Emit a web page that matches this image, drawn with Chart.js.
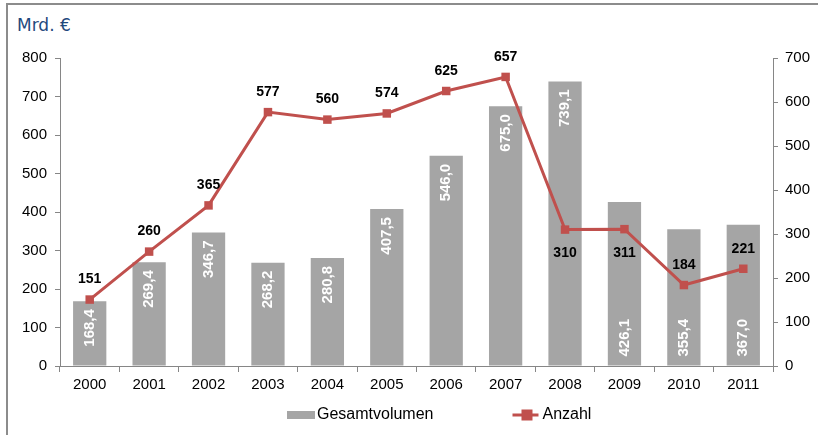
<!DOCTYPE html>
<html>
<head>
<meta charset="utf-8">
<script src="https://cdn.jsdelivr.net/npm/chart.js@4"></script>
<style>
  html, body { margin: 0; padding: 0; background: #fff; }
  #frame { position: absolute; left: 6px; top: 3px; width: 830px; height: 450px;
           border-top: 2px solid #8c8c8c; border-left: 2px solid #8c8c8c; }
  #unit { position: absolute; left: 17px; top: 15px; font: 17px "DejaVu Sans", sans-serif; color: #1f497d; }
  #wrap { position: absolute; left: 0; top: 0; width: 818px; height: 435px; }
</style>
</head>
<body>
<div id="frame"></div>
<div id="unit">Mrd. €</div>
<div id="wrap"><canvas id="c" width="818" height="435"></canvas></div>
<script>
// values
const years = ['2000', '2001', '2002', '2003', '2004', '2005', '2006', '2007', '2008', '2009', '2010', '2011'];
const gesamtvolumen = [168.4, 269.4, 346.7, 268.2, 280.8, 407.5, 546.0, 675.0, 739.1, 426.1, 355.4, 367.0];
const anzahl = [151, 260, 365, 577, 560, 574, 625, 657, 310, 311, 184, 221];
const leftMax = 800;
const rightMax = 700;

// where the labels sit (style only)
const barLabelAt = ['end', 'end', 'end', 'end', 'end', 'end', 'end', 'end', 'end', 'start', 'start', 'start'];
const lineLabelAt = ['above', 'above', 'above', 'above', 'above', 'above', 'above', 'above', 'below', 'below', 'above', 'above'];

const GRAY = '#a5a5a5';
const RED = '#c0504d';
const AXIS = '#868686';
const FONT = '"Liberation Sans", Arial, sans-serif';

const valueLabels = {
  id: 'valueLabels',
  afterDatasetsDraw(chart) {
    const ctx = chart.ctx;
    chart.getDatasetMeta(0).data.forEach((bar, i) => {
      const txt = gesamtvolumen[i].toFixed(1).replace('.', ',');
      const atEnd = barLabelAt[i] === 'end';
      ctx.save();
      ctx.translate(bar.x, atEnd ? bar.y + 8 : bar.base - 9);
      ctx.rotate(-Math.PI / 2);
      ctx.textAlign = atEnd ? 'right' : 'left';
      ctx.textBaseline = 'middle';
      ctx.fillStyle = '#fff';
      ctx.font = 'bold 15px ' + FONT;
      ctx.fillText(txt, 0, 0);
      ctx.restore();
    });
    chart.getDatasetMeta(1).data.forEach((pt, i) => {
      ctx.save();
      ctx.textAlign = 'center';
      ctx.textBaseline = 'middle';
      ctx.fillStyle = '#000';
      ctx.font = 'bold 14px ' + FONT;
      ctx.fillText(String(anzahl[i]), pt.x, lineLabelAt[i] === 'above' ? pt.y - 20 : pt.y + 24);
      ctx.restore();
    });
  }
};

// Excel-style legend under the axis
const bottomLegend = {
  id: 'bottomLegend',
  afterDraw(chart) {
    const ctx = chart.ctx;
    const y = chart.scales.x.bottom + 17;
    let x = 287;
    ctx.save();
    ctx.font = '16px ' + FONT;
    ctx.textBaseline = 'middle';

    const names = chart.data.datasets.map(d => d.label);
    ctx.fillStyle = GRAY;
    ctx.fillRect(x, y - 4, 28, 8);
    ctx.fillStyle = '#000';
    ctx.fillText(names[0], x + 30, y);
    x += 30 + ctx.measureText(names[0]).width + 79;

    ctx.strokeStyle = RED;
    ctx.lineWidth = 3;
    ctx.beginPath(); ctx.moveTo(x, y); ctx.lineTo(x + 26, y); ctx.stroke();
    ctx.fillStyle = RED;
    ctx.fillRect(x + 9, y - 5.5, 11, 11);
    ctx.fillStyle = '#000';
    ctx.fillText(names[1], x + 30, y);
    ctx.restore();
  }
};

new Chart(document.getElementById('c'), {
  data: {
    labels: years,
    datasets: [
      {
        type: 'bar',
        label: 'Gesamtvolumen',
        data: gesamtvolumen,
        backgroundColor: GRAY,
        yAxisID: 'y',
        categoryPercentage: 1,
        barPercentage: 0.56,
        order: 2
      },
      {
        type: 'line',
        label: 'Anzahl',
        data: anzahl,
        borderColor: RED,
        backgroundColor: RED,
        borderWidth: 3,
        pointStyle: 'rect',
        pointRadius: 6,
        pointBorderWidth: 0,
        tension: 0,
        yAxisID: 'y1',
        order: 1
      }
    ]
  },
  options: {
    responsive: false,
    animation: false,
    layout: { padding: { left: 18, right: 3, top: 58, bottom: 37 } },
    plugins: {
      tooltip: { enabled: false },
      legend: { display: false }
    },
    scales: {
      x: {
        grid: { display: true, drawOnChartArea: false, offset: true, tickLength: 6, color: AXIS },
        border: { color: AXIS },
        ticks: { color: '#000', font: { family: FONT, size: 15 }, padding: 4 }
      },
      y: {
        position: 'left',
        min: 0, max: leftMax,
        afterFit: s => { s.width = 42; },
        grid: { drawOnChartArea: false, tickLength: 5, color: AXIS },
        border: { color: AXIS },
        ticks: { stepSize: 100, color: '#000', font: { family: FONT, size: 15 }, padding: 8 }
      },
      y1: {
        position: 'right',
        min: 0, max: rightMax,
        afterFit: s => { s.width = 42; },
        grid: { drawOnChartArea: false, tickLength: 5, color: AXIS },
        border: { color: AXIS },
        ticks: { stepSize: 100, color: '#000', font: { family: FONT, size: 15 }, padding: 7 }
      }
    }
  },
  plugins: [valueLabels, bottomLegend]
});
</script>
</body>
</html>
